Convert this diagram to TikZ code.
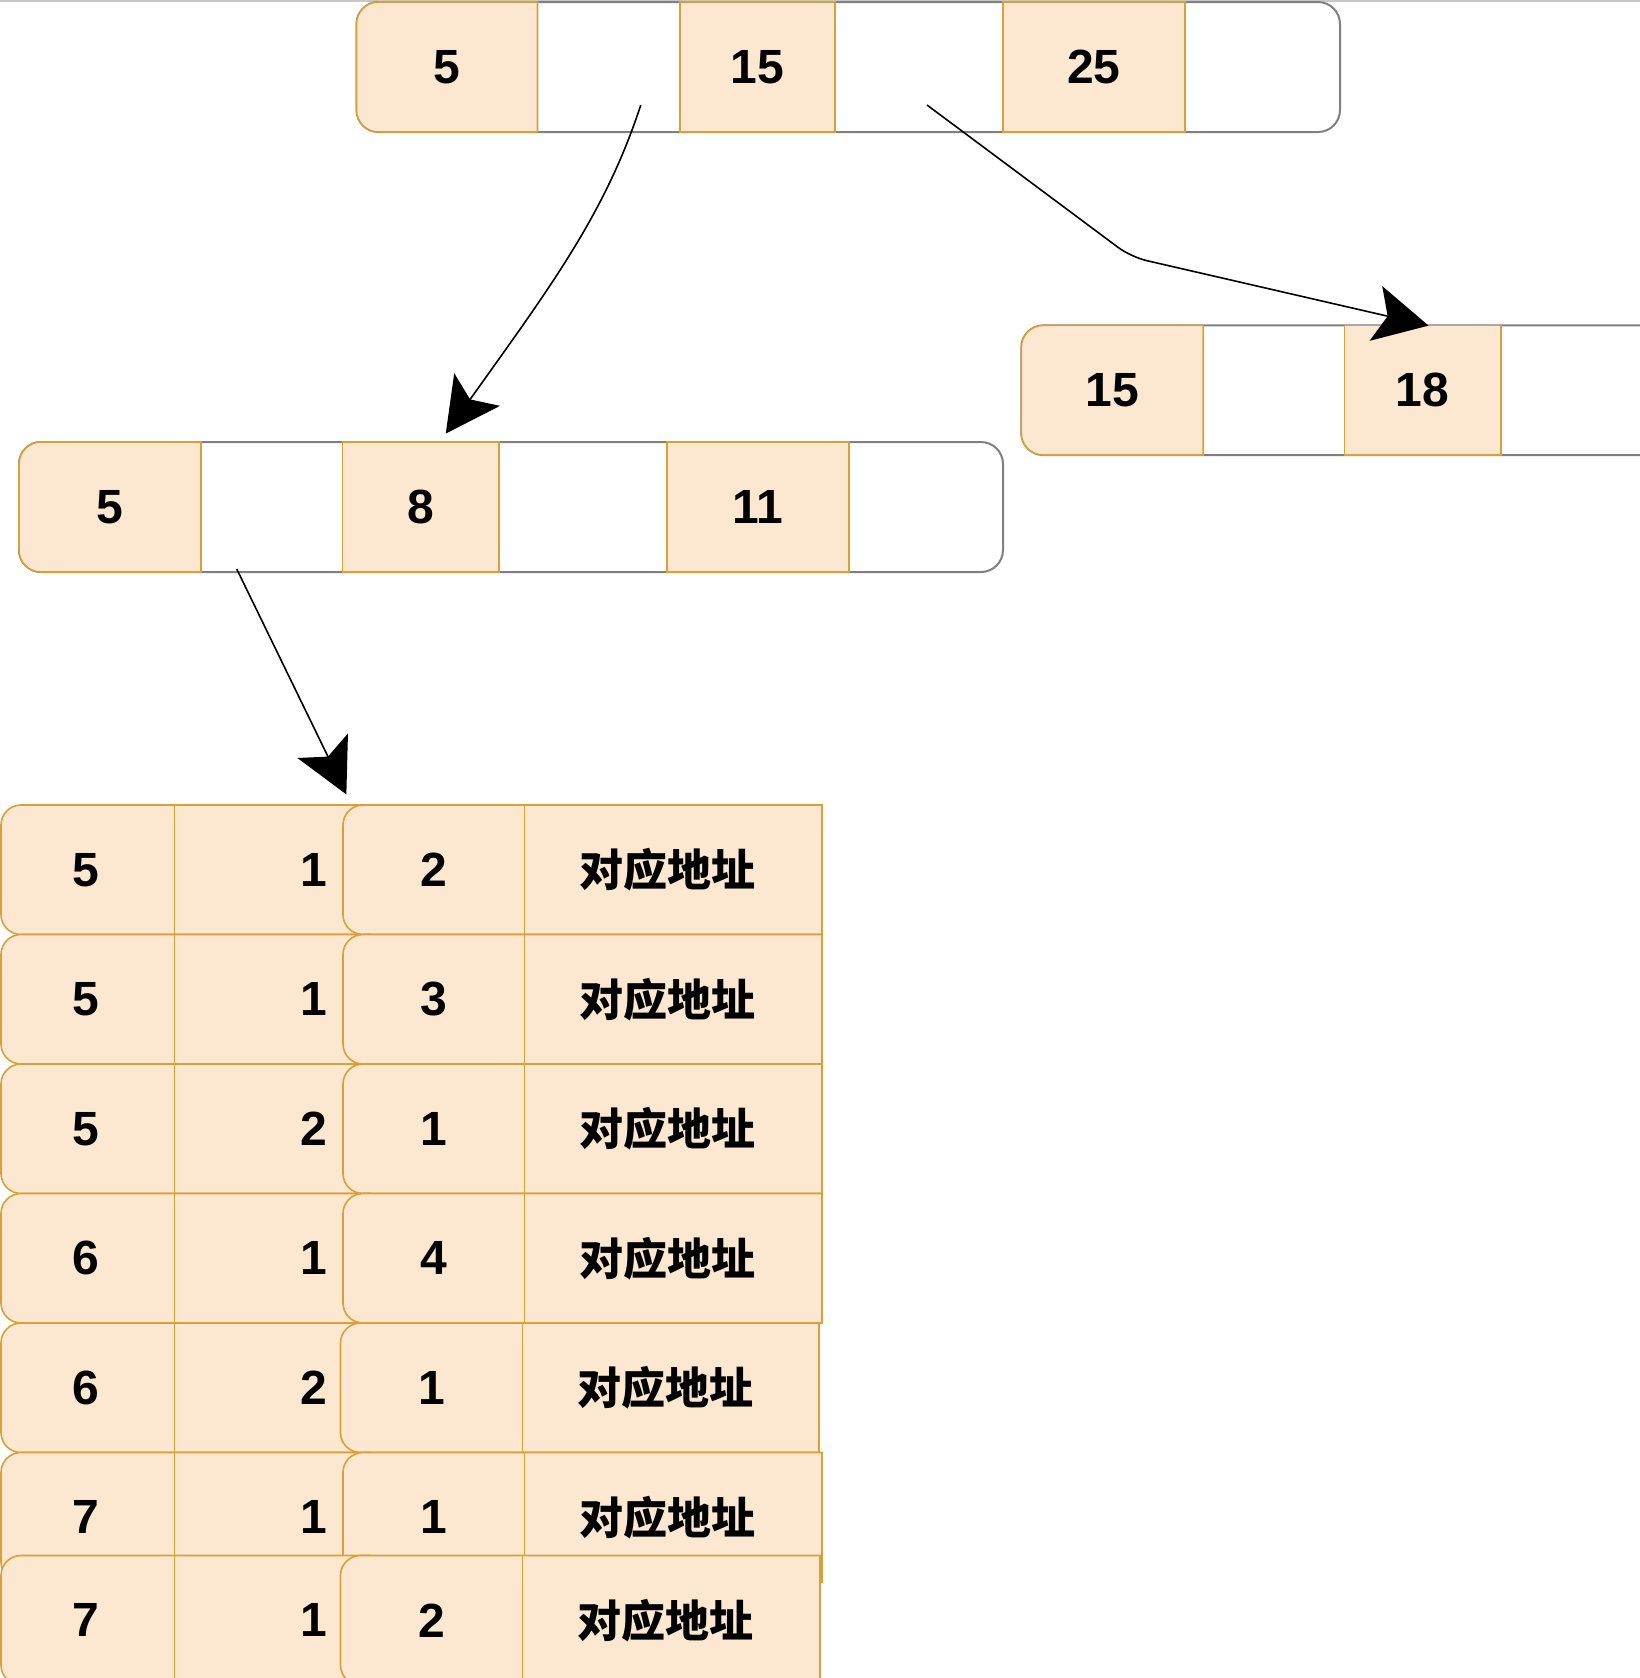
\documentclass[tikz,border=0pt]{standalone}
\usepackage{fontspec}
\setmainfont{Liberation Sans}
\newfontfamily\cjkfont{Noto Sans CJK SC}
\usetikzlibrary{arrows.meta,calc}

\definecolor{peach}{HTML}{FCE8D0}
\definecolor{ochre}{HTML}{D9A03A}
\definecolor{rim}{HTML}{808080}

\tikzset{
  cellfill/.style={draw=ochre, line width=0.8pt, fill=peach},
  cellline/.style={draw=ochre, line width=0.8pt},
  rimline/.style={draw=rim, line width=1pt},
  num/.style={font=\fontsize{24pt}{28pt}\selectfont\bfseries, inner sep=0pt},
  addr/.style={font=\fontsize{22pt}{26pt}\selectfont\cjkfont\bfseries, inner sep=0pt},
  slot/.style={inner sep=0pt, minimum height=65pt},
  link/.style={draw=black, line width=0.8pt, -{Stealth[length=27pt,width=28pt,inset=6pt]}},
}

% cell whose left side has rounded corners: x1 y1 x2 y2 radius
\newcommand\lrcell[5]{%
  \draw[cellfill] (#3,#2) -- ({#1+#5},#2)
    arc[start angle=270,end angle=180,radius=#5] -- (#1,{#4-#5})
    arc[start angle=180,end angle=90,radius=#5] -- (#3,#4) -- cycle;}

\begin{document}
\begin{tikzpicture}[x=0.5pt,y=-0.5pt]
\useasboundingbox (0,0) rectangle (1640,1678);
\clip (0,0) rectangle (1640,1678);
\fill[white] (0,0) rectangle (1640,1678);
\draw[draw=black!22, line width=1pt] (0,1) -- (1640,1);

% ---- root page ----
\draw[rimline, fill=white, rounded corners=11pt] (356.5,2) rectangle (1340,132);
\lrcell{356.5}{2}{537.5}{132}{22}
\draw[cellfill] (680,2) rectangle (835,132);
\draw[cellfill] (1003,2) rectangle (1185,132);
\node[num, slot, minimum width=90.5pt] (r5) at (447,67) {5};
\node[slot, minimum width=71.25pt] (rg1) at (608.75,67) {};
\node[num, slot, minimum width=77.5pt] (r15) at (757.5,67) {15};
\node[slot, minimum width=84pt] (rg2) at (919,67) {};
\node[num, slot, minimum width=91pt] (r25) at (1094,67) {25};

% ---- left inner page ----
\draw[rimline, fill=white, rounded corners=11pt] (19,442) rectangle (1003,572);
\lrcell{19}{442}{201}{572}{22}
\draw[cellfill] (342.5,442) rectangle (499,572);
\draw[cellfill] (667,442) rectangle (849,572);
\node[num, slot, minimum width=91pt] (m5) at (110,507) {5};
\node[slot, minimum width=70.75pt] (mg1) at (271.75,507) {};
\node[num, slot, minimum width=78.25pt] (m8) at (420.75,507) {8};
\node[num, slot, minimum width=91pt] (m11) at (758,507) {11};

% ---- right inner page (runs past the edge) ----
\draw[rimline, fill=white, rounded corners=11pt] (1021.3,325.4) rectangle (2100,455);
\lrcell{1021.3}{325.4}{1203.2}{455}{22}
\draw[cellfill] (1344.5,325.4) rectangle (1500.8,455);
\node[num, slot, minimum width=91pt] (y15) at (1112,390) {15};
\node[num, slot, minimum width=78pt] (y18) at (1422.6,390) {18};

% ---- leaf rows ----
\foreach \n/\t/\a/\b/\c/\xl/\xd/\xr in {
  0/805/5/1/2/343/524.5/822,
  1/934.5/5/1/3/343/524.5/822,
  2/1064/5/2/1/343/524.5/822,
  3/1193.5/6/1/4/343/524.5/822,
  4/1323/6/2/1/340.5/522.5/819,
  5/1452.5/7/1/1/343/524.5/822,
  6/1555.5/7/1/2/340.5/522.5/820}{
  \pgfmathsetmacro\bt{\t+129.5}
  \pgfmathsetmacro\my{\t+64.75}
  \lrcell{1}{\t}{370}{\bt}{20}
  \draw[cellline] (174.5,\t) -- (174.5,\bt);
  \lrcell{\xl}{\t}{\xr}{\bt}{20}
  \draw[cellline] (\xd,\t) -- (\xd,\bt);
  \node[num] (k\n) at (86,\my) {\a};
  \node[num, anchor=east] (s\n) at (328,\my) {\b};
  \node[num, slot, minimum width=90pt] (q\n) at ({(\xl+\xd)/2},\my) {\c};
  \node[addr] (d\n) at ({\xd+142.5},\my) {对应地址};
}

% ---- pointers ----
\draw[link] ($(rg1.center)+(32,38)$) .. controls (605,215) and (548,290) .. ($(m8.north)+(25,-8)$);
\draw[link, rounded corners=8pt] ($(rg2.center)+(8,38)$) -- (1131,257) -- ($(y18.north)+(6,1)$);
\draw[link] ($(mg1.center)+(-35,62)$) -- ($(q0.north west)+(3,-10)$);
\end{tikzpicture}
\end{document}
